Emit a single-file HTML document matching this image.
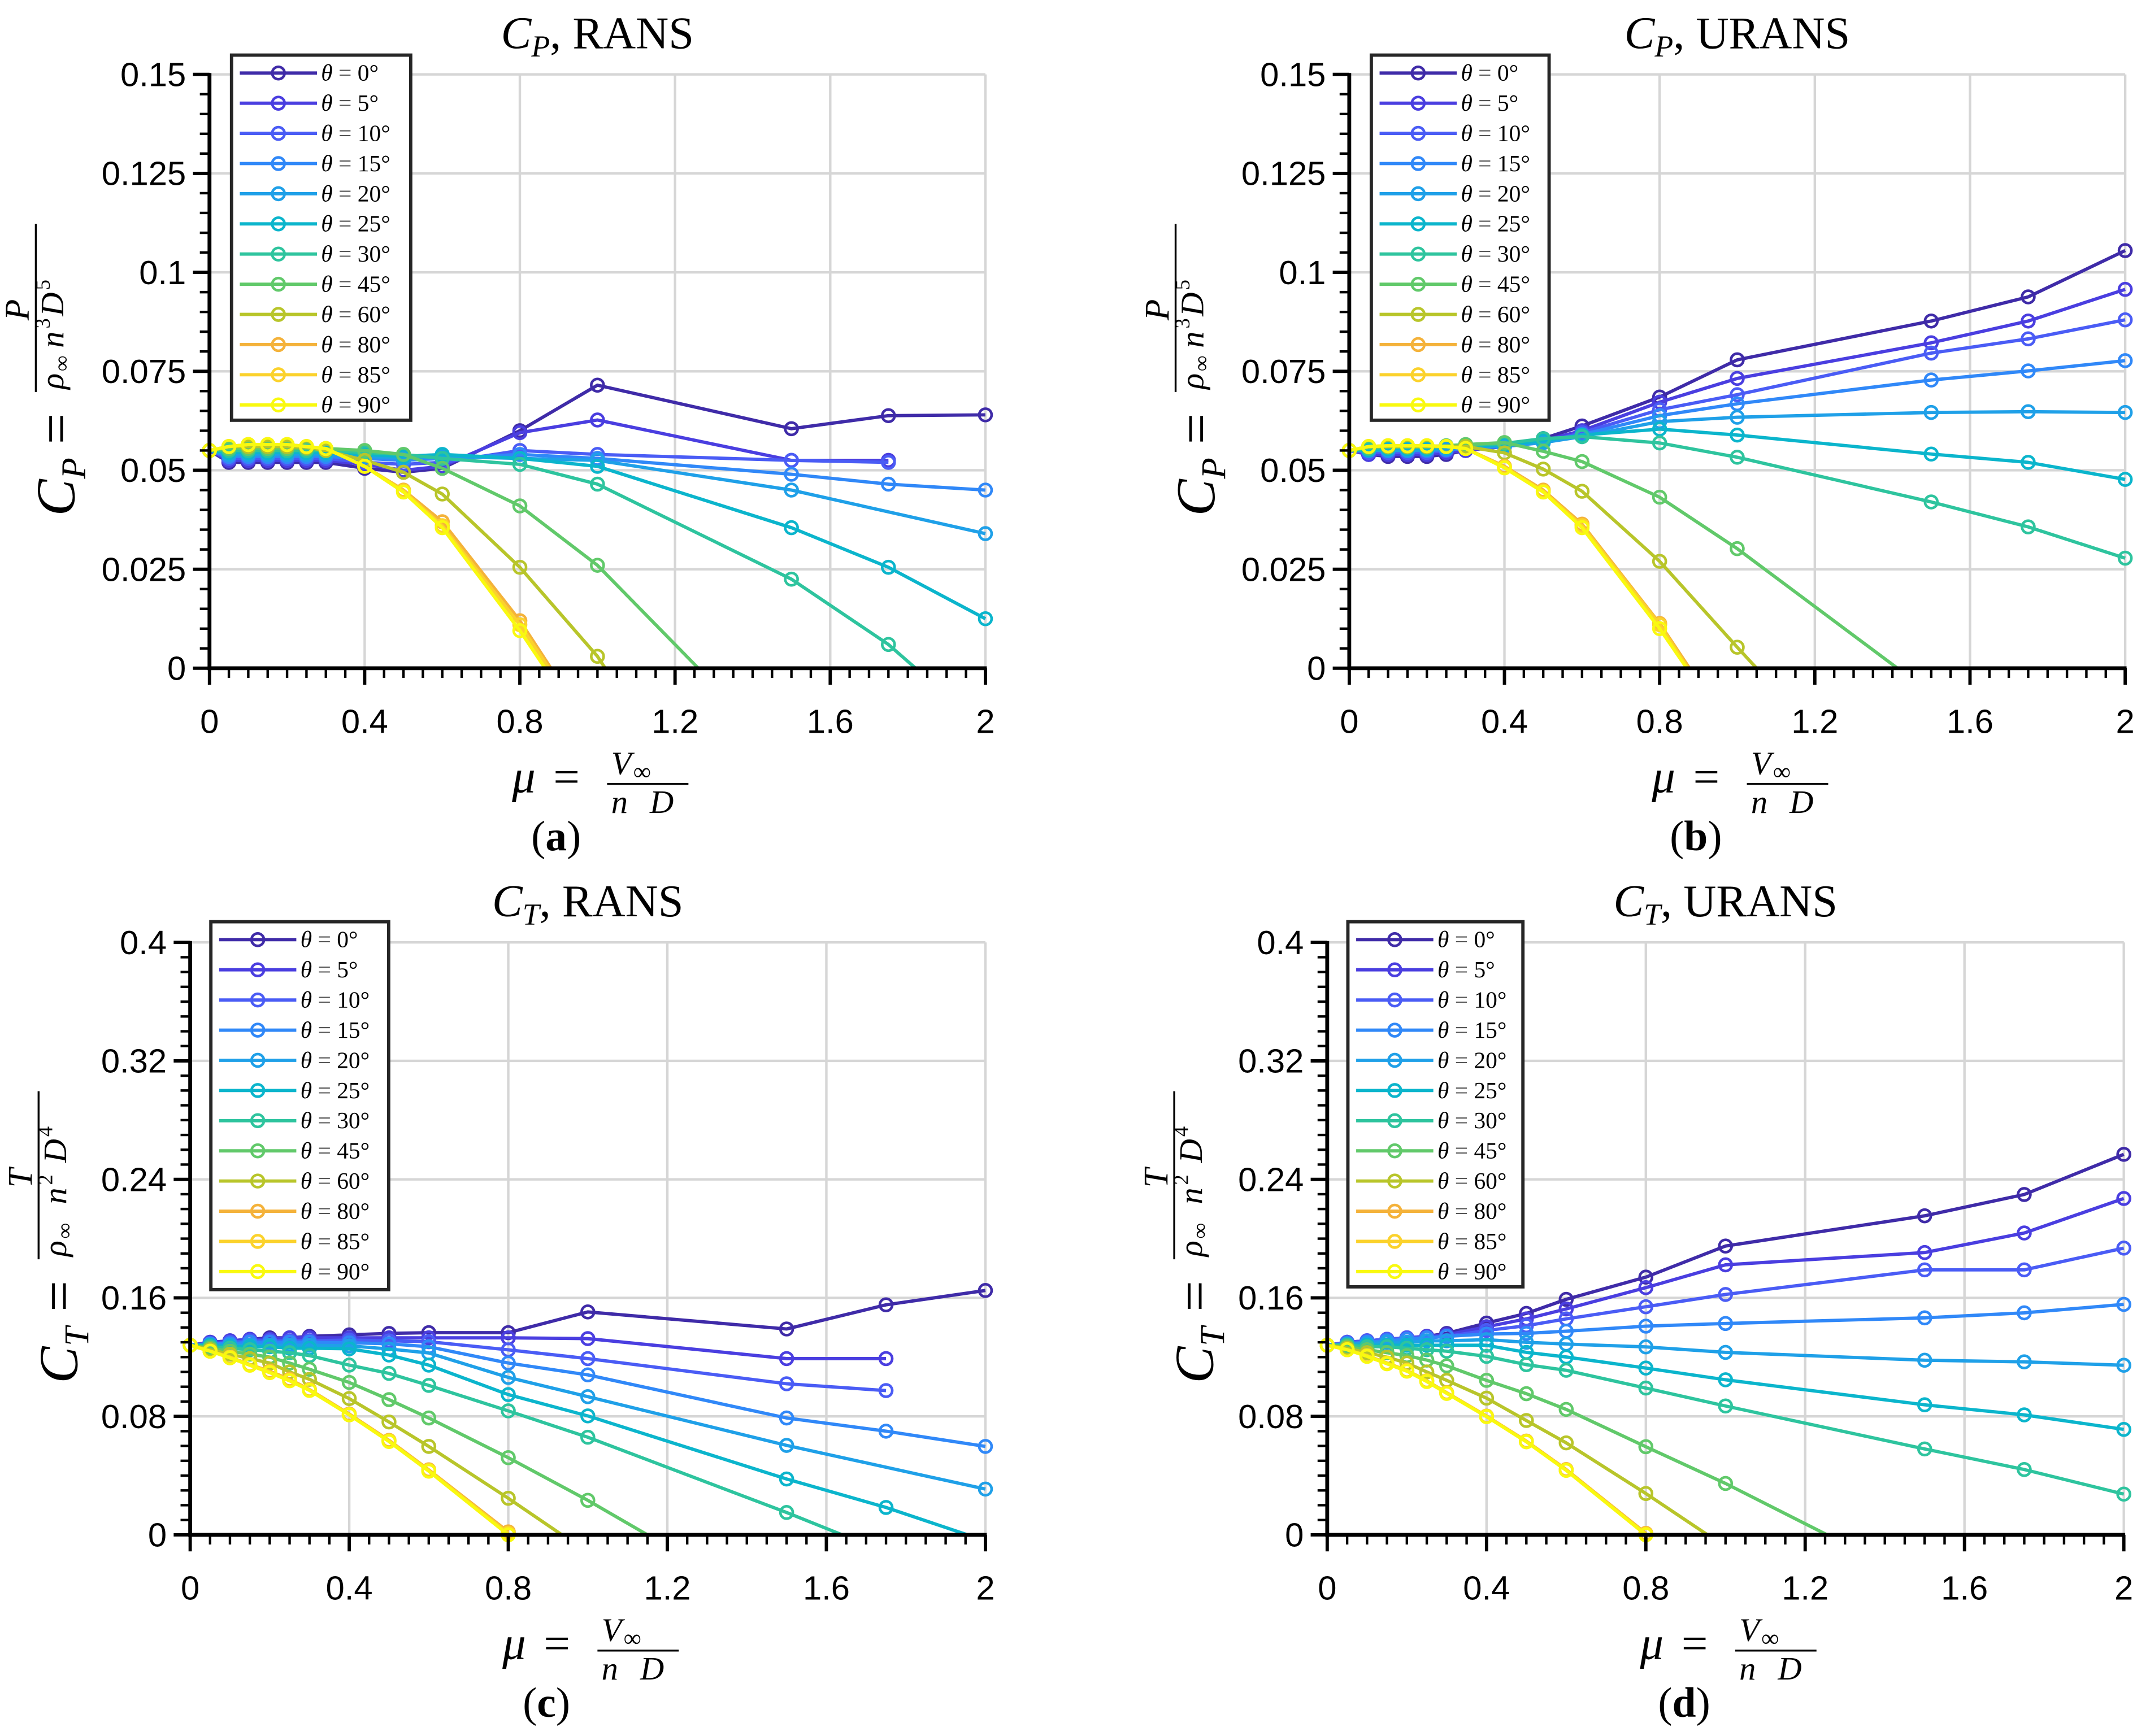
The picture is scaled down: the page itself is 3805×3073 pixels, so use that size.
<!DOCTYPE html>
<html><head><meta charset="utf-8"><style>
html,body{margin:0;padding:0;background:#fff;}
svg{display:block;}
text{font-family:"Liberation Sans",sans-serif;}
.serif{font-family:"Liberation Serif",serif;}
</style></head><body>
<svg id="fig" xmlns="http://www.w3.org/2000/svg" width="3805" height="3073" viewBox="0 0 1560 1260" preserveAspectRatio="none"></svg>
<script>
const MU = [0,0.05,0.1,0.15,0.2,0.25,0.3,0.4,0.5,0.6,0.8,1,1.5,1.75,2];
const THETAS = [0,5,10,15,20,25,30,45,60,80,85,90];
const COLORS = ["#3f2ba8","#4a3ee0","#4a5cf5","#3088f8","#1fa0e8","#0bb5cc","#2ec49e","#61c96a","#b8c52a","#f4b23a","#fbd22c","#f9f90f"];
const n=null;
const cpRans = [
[0.055,0.052,0.052,0.052,0.052,0.052,0.052,0.0505,0.0495,0.0505,0.060,0.0715,0.0605,0.0638,0.064],
[0.055,0.0525,0.0525,0.0525,0.0525,0.0525,0.0525,0.0515,0.050,0.051,0.0595,0.0627,0.0525,0.0525,n],
[0.055,0.053,0.053,0.053,0.053,0.053,0.053,0.052,0.0515,0.052,0.055,0.054,0.0525,0.052,n],
[0.055,0.0535,0.0535,0.0535,0.0535,0.0535,0.0535,0.053,0.0525,0.053,0.054,0.053,0.049,0.0465,0.045],
[0.055,0.054,0.054,0.054,0.054,0.054,0.054,0.0535,0.053,0.0535,0.053,0.0525,0.045,n,0.034],
[0.055,0.0545,0.0545,0.0545,0.0545,0.0545,0.0545,0.054,0.0535,0.054,0.053,0.051,0.0355,0.0255,0.0125],
[0.055,0.055,0.055,0.055,0.055,0.055,0.055,0.0545,0.054,0.053,0.0515,0.0465,0.0225,0.006,n],
[0.055,0.0555,0.0555,0.0555,0.0555,0.0555,0.0555,0.055,0.054,0.0505,0.041,0.026,n,n,n],
[0.055,0.056,0.056,0.056,0.056,0.0558,0.055,0.0525,0.0495,0.044,0.0255,0.003,n,n,n],
[0.055,0.056,0.0565,0.0565,0.0565,0.056,0.0555,0.051,0.045,0.037,0.012,n,n,n,n],
[0.055,0.056,0.0565,0.0565,0.0565,0.056,0.0555,0.051,0.0448,0.036,0.011,n,n,n,n],
[0.055,0.056,0.0565,0.0565,0.0565,0.056,0.0555,0.051,0.0445,0.0355,0.0095,n,n,n,n]];
const cpRansZero = [n,n,n,n,n,n,1.82,1.26,1.02,0.88,0.875,0.865];
const cpUrans = [
[0.055,0.054,0.0535,0.0535,0.0535,0.054,0.055,0.0565,0.058,0.0612,0.0685,0.0779,0.0877,0.0938,0.1055],
[0.055,0.054,0.054,0.054,0.054,0.0545,0.055,0.056,0.0575,0.060,0.0672,0.0732,0.0822,0.0877,0.0957],
[0.055,0.0545,0.0545,0.0545,0.0545,0.055,0.0555,0.0565,0.057,0.0595,0.0653,0.0691,0.0796,0.0832,0.088],
[0.055,0.055,0.055,0.055,0.055,0.0552,0.0555,0.056,0.057,0.059,0.0638,0.0668,0.0728,0.0751,0.0777],
[0.055,0.055,0.055,0.055,0.0552,0.0555,0.0558,0.0562,0.057,0.0585,0.0623,0.0634,0.0646,0.0648,0.0646],
[0.055,0.0552,0.0555,0.0555,0.0555,0.0558,0.056,0.0565,0.0575,0.0589,0.0604,0.0589,0.0541,0.052,0.0477],
[0.055,0.0555,0.0558,0.0558,0.0558,0.056,0.0562,0.0568,0.058,0.0585,0.0569,0.0533,0.042,0.0357,0.0278],
[0.055,0.0558,0.056,0.056,0.056,0.0562,0.0565,0.057,0.0548,0.0522,0.0432,0.0302,n,n,n],
[0.055,0.056,0.056,0.056,0.056,0.056,0.056,0.0544,0.0503,0.0447,0.027,0.0053,n,n,n],
[0.055,0.056,0.0562,0.0562,0.0562,0.056,0.0555,0.051,0.045,0.0364,0.0113,n,n,n,n],
[0.055,0.056,0.0562,0.0562,0.0562,0.056,0.0555,0.0508,0.0447,0.036,0.011,n,n,n,n],
[0.055,0.056,0.0562,0.0562,0.0562,0.056,0.0555,0.0506,0.0445,0.0355,0.010,n,n,n,n]];
const cpUransZero = [n,n,n,n,n,n,n,1.413,1.05,0.877,0.873,0.87];
const ctRans = [
[0.128,0.130,0.131,0.132,0.133,0.133,0.134,0.135,0.136,0.1365,0.1365,0.1505,0.139,0.1553,0.165],
[0.128,0.130,0.131,0.132,0.132,0.133,0.133,0.133,0.133,0.133,0.133,0.1325,0.119,0.119,n],
[0.128,0.129,0.130,0.131,0.131,0.131,0.131,0.1315,0.131,0.1304,0.1249,0.119,0.102,0.0974,n],
[0.128,0.129,0.129,0.130,0.130,0.130,0.130,0.1297,0.129,0.127,0.116,0.108,0.0789,0.070,0.0597],
[0.128,0.128,0.128,0.128,0.128,0.128,0.128,0.1276,0.1255,0.1228,0.1063,0.0933,0.0604,n,0.0309],
[0.128,0.128,0.127,0.127,0.127,0.126,0.126,0.1256,0.1214,0.1146,0.0947,0.0803,0.0377,0.0185,n],
[0.128,0.127,0.126,0.125,0.124,0.123,0.121,0.1146,0.109,0.1009,0.0837,0.0659,0.0151,n,n],
[0.128,0.126,0.124,0.122,0.120,0.116,0.1118,0.1029,0.0913,0.0789,0.0521,0.0233,n,n,n],
[0.128,0.125,0.122,0.119,0.116,0.110,0.105,0.092,0.0762,0.0597,0.0247,n,n,n,n],
[0.128,0.124,0.120,0.115,0.1105,0.105,0.0981,0.0816,0.0638,0.0439,0.002,n,n,n,n],
[0.128,0.124,0.120,0.115,0.110,0.1045,0.0978,0.0812,0.0634,0.0435,0.001,n,n,n,n],
[0.128,0.124,0.1195,0.1145,0.1095,0.104,0.0975,0.081,0.063,0.043,0.000,n,n,n,n]];
const ctRansZero = [n,n,n,n,n,1.955,1.64,1.15,0.935,n,n,n];
const ctUrans = [
[0.128,0.130,0.131,0.132,0.133,0.134,0.136,0.143,0.1495,0.159,0.174,0.195,0.2154,0.2298,0.2569],
[0.128,0.130,0.131,0.132,0.133,0.134,0.135,0.1405,0.1458,0.1525,0.1669,0.1823,0.1906,0.2038,0.2271],
[0.128,0.130,0.131,0.132,0.133,0.133,0.134,0.138,0.1412,0.1458,0.154,0.1623,0.1789,0.1789,0.1936],
[0.128,0.129,0.130,0.131,0.132,0.133,0.134,0.1356,0.136,0.1375,0.1409,0.1427,0.1465,0.1499,0.1556],
[0.128,0.129,0.129,0.130,0.130,0.131,0.131,0.1318,0.130,0.1288,0.1269,0.1232,0.1179,0.1168,0.1145],
[0.128,0.128,0.128,0.128,0.128,0.128,0.128,0.128,0.1232,0.1201,0.1126,0.1047,0.0878,0.081,0.0712],
[0.128,0.128,0.127,0.127,0.126,0.125,0.124,0.1205,0.1149,0.1111,0.0991,0.087,0.058,0.0441,0.0275],
[0.128,0.127,0.125,0.123,0.121,0.118,0.1141,0.1043,0.0953,0.0847,0.0595,0.0347,n,n,n],
[0.128,0.126,0.123,0.120,0.116,0.110,0.1043,0.0923,0.0772,0.0621,0.0279,n,n,n,n],
[0.128,0.125,0.121,0.116,0.111,0.104,0.096,0.0802,0.0633,0.0441,0.001,n,n,n,n],
[0.128,0.125,0.121,0.116,0.111,0.104,0.0958,0.080,0.063,0.0438,0.0005,n,n,n,n],
[0.128,0.125,0.1205,0.1155,0.1105,0.1035,0.0955,0.0798,0.0628,0.0435,0.000,n,n,n,n]];
const ctUransZero = [n,n,n,n,n,n,n,1.255,0.955,n,n,n];
const cpTicks = [0,0.025,0.05,0.075,0.1,0.125,0.15];
const cpTickLabels = ["0","0.025","0.05","0.075","0.1","0.125","0.15"];
const ctTicks = [0,0.08,0.16,0.24,0.32,0.4];
const ctTickLabels = ["0","0.08","0.16","0.24","0.32","0.4"];
const xTicks = [0,0.4,0.8,1.2,1.6,2];
const xTickLabels = ["0","0.4","0.8","1.2","1.6","2"];

const NS="http://www.w3.org/2000/svg";
const svg=document.getElementById('fig');
function el(tag,attrs,parent,txt){const e=document.createElementNS(NS,tag);for(const k in attrs)e.setAttribute(k,attrs[k]);if(txt!==undefined)e.textContent=txt;(parent||svg).appendChild(e);return e;}

const panels=[
 {id:'a',x0:152,x1:715,yb:485,yt:54,ymax:0.15,minor:0.005,data:cpRans,zero:cpRansZero,ticks:cpTicks,labels:cpTickLabels,sub:'P',kind:'RANS',leg:[168,40,298,305],ylx:42},
 {id:'b',x0:979,x1:1542,yb:485,yt:54,ymax:0.15,minor:0.005,data:cpUrans,zero:cpUransZero,ticks:cpTicks,labels:cpTickLabels,sub:'P',kind:'URANS',leg:[995,40,1124,305],ylx:869},
 {id:'c',x0:138,x1:715,yb:1114,yt:684,ymax:0.4,minor:0.01,data:ctRans,zero:ctRansZero,ticks:ctTicks,labels:ctTickLabels,sub:'T',kind:'RANS',leg:[153,669,282,936],ylx:44},
 {id:'d',x0:963,x1:1541,yb:1114,yt:684,ymax:0.4,minor:0.01,data:ctUrans,zero:ctUransZero,ticks:ctTicks,labels:ctTickLabels,sub:'T',kind:'URANS',leg:[978,669,1105,934],ylx:868}
];

panels.forEach(p=>{
  const g=el('g',{});
  
  
  const X=v=>p.x0+(p.x1-p.x0)*v/2;
  const Y=v=>p.yb-(p.yb-p.yt)*v/p.ymax;
  const cx=(p.x0+p.x1)/2;
  xTicks.forEach(t=>{ if(t>0){const l=el('line',{x1:X(t),x2:X(t),y1:p.yb,y2:p.yt,stroke:'#d6d6d6','stroke-width':1.8},g);
    
    }});
  p.ticks.forEach(t=>{ if(t>0){const l=el('line',{x1:p.x0,x2:p.x1,y1:Y(t),y2:Y(t),stroke:'#d6d6d6','stroke-width':1.8},g);
    
    }});
  p.data.forEach((vals,si)=>{
    const pts=[];
    vals.forEach((v,i)=>{ if(v!==null) pts.push([X(MU[i]),Y(v)]); });
    if(p.zero[si]!==null) pts.push([X(p.zero[si]),Y(0)]);
    const sg=el('g',{},g);
    
    
    el('polyline',{points:pts.map(q=>q.join(',')).join(' '),fill:'none',stroke:COLORS[si],'stroke-width':2.4,'stroke-linejoin':'round'},sg);
    vals.forEach((v,i)=>{ if(v!==null){
      const c=el('circle',{cx:X(MU[i]),cy:Y(v),r:4.5,fill:'none',stroke:COLORS[si],'stroke-width':1.9},sg);
      
      
    }});
  });
  const ax=el('g',{},g);
  
  
  el('line',{x1:p.x0,x2:p.x0,y1:p.yt-1,y2:p.yb+1.4,stroke:'#000','stroke-width':2.8},ax);
  el('line',{x1:p.x0-1.4,x2:p.x1+1,y1:p.yb,y2:p.yb,stroke:'#000','stroke-width':2.8},ax);
  for(let k=0;k<=40;k++){const v=k*0.05;const maj=(k%8===0);
    el('line',{x1:X(v),x2:X(v),y1:p.yb,y2:p.yb+(maj?12:7),stroke:'#000','stroke-width':maj?2.4:1.8},ax);}
  const nm=Math.round(p.ymax/p.minor);
  const per=Math.round(p.ticks[1]/p.minor);
  for(let k=0;k<=nm;k++){const v=k*p.minor;const maj=(k%per===0);
    el('line',{x1:p.x0,x2:p.x0-(maj?12:7),y1:Y(v),y2:Y(v),stroke:'#000','stroke-width':maj?2.4:1.8},ax);}
  p.ticks.forEach((t,i)=>{const tx=el('text',{x:p.x0-17,y:Y(t)+8.5,'text-anchor':'end','font-size':24.5,fill:'#000'},g,p.labels[i]);
    
    });
  xTicks.forEach((t,i)=>{const tx=el('text',{x:X(t),y:p.yb+47,'text-anchor':'middle','font-size':24.5,fill:'#000'},g,xTickLabels[i]);
    
    });
  const ti=el('text',{x:cx,y:p.yt-19,'text-anchor':'middle','font-size':33,class:'serif',fill:'#000'},g);
  
  
  el('tspan',{'font-style':'italic'},ti,'C');
  el('tspan',{'font-style':'italic','font-size':22,dy:6},ti,p.sub);
  el('tspan',{dy:-6},ti,', '+p.kind);
  const xl=el('g',{transform:`translate(${cx},${p.yb+80})`},g);
  
  
  el('text',{x:-62,y:10,'font-size':34,'font-style':'italic',class:'serif'},xl,'μ');
  el('text',{x:-32,y:10,'font-size':34,class:'serif'},xl,'=');
  el('text',{x:10,y:-3,'font-size':24,'font-style':'italic',class:'serif'},xl,'V');
  el('text',{x:26,y:1,'font-size':18,class:'serif'},xl,'∞');
  el('line',{x1:7,x2:66,y1:4,y2:4,stroke:'#000','stroke-width':1.4},xl);
  el('text',{x:10,y:25,'font-size':24,'font-style':'italic',class:'serif'},xl,'n');
  el('text',{x:38,y:25,'font-size':24,'font-style':'italic',class:'serif'},xl,'D');
  const sl=el('text',{x:cx-30,y:p.yb+132,'text-anchor':'middle','font-size':31,class:'serif'},g);
  
  
  el('tspan',{},sl,'(');el('tspan',{'font-weight':'bold'},sl,p.id);el('tspan',{},sl,')');
  const ycy=(p.yt+p.yb)/2+5;
  const yl=el('g',{transform:`translate(${p.ylx},${ycy}) rotate(-90)`},g);
  
  
  el('text',{x:-100,y:12,'font-size':40,'font-style':'italic',class:'serif'},yl,'C');
  el('text',{x:-73,y:20,'font-size':25,'font-style':'italic',class:'serif'},yl,p.sub);
  el('text',{x:-48,y:12,'font-size':40,class:'serif'},yl,'=');
  el('line',{x1:-10,x2:112,y1:-16,y2:-16,stroke:'#000','stroke-width':1.4},yl);
  el('text',{x:42,y:-21,'font-size':25,'font-style':'italic',class:'serif'},yl,p.sub);
  if(p.sub==='P'){
    el('text',{x:-8,y:4,'font-size':24,'font-style':'italic',class:'serif'},yl,'ρ');
    el('text',{x:5,y:8,'font-size':16,class:'serif'},yl,'∞');
    el('text',{x:22,y:4,'font-size':24,'font-style':'italic',class:'serif'},yl,'n');
    el('text',{x:36,y:-6,'font-size':15,class:'serif'},yl,'3');
    el('text',{x:45,y:4,'font-size':24,'font-style':'italic',class:'serif'},yl,'D');
    el('text',{x:64,y:-6,'font-size':15,class:'serif'},yl,'5');
  } else {
    el('text',{x:-8,y:4,'font-size':24,'font-style':'italic',class:'serif'},yl,'ρ');
    el('text',{x:5,y:8,'font-size':16,class:'serif'},yl,'∞');
    el('text',{x:30,y:4,'font-size':24,'font-style':'italic',class:'serif'},yl,'n');
    el('text',{x:44,y:-6,'font-size':15,class:'serif'},yl,'2');
    el('text',{x:60,y:4,'font-size':24,'font-style':'italic',class:'serif'},yl,'D');
    el('text',{x:79,y:-6,'font-size':15,class:'serif'},yl,'4');
  }
  const L=p.leg;
  const lg=el('g',{},g);
  
  
  el('rect',{x:L[0],y:L[1],width:L[2]-L[0],height:L[3]-L[1],fill:'#fff',stroke:'#262626','stroke-width':2.4},lg);
  THETAS.forEach((t,i)=>{
    const yy=L[1]+13+i*21.9;
    const en=el('g',{},lg);
    
    
    el('line',{x1:L[0]+6,x2:L[0]+62,y1:yy,y2:yy,stroke:COLORS[i],'stroke-width':2.4},en);
    el('circle',{cx:L[0]+34,cy:yy,r:4.5,fill:'none',stroke:COLORS[i],'stroke-width':1.9},en);
    const tx=el('text',{x:L[0]+65,y:yy+5.5,'font-size':17,class:'serif'},en);
    el('tspan',{'font-style':'italic'},tx,'θ');
    el('tspan',{fill:'#555'},tx,' = ');
    el('tspan',{},tx,t+'°');
  });
});
</script>
</body></html>
